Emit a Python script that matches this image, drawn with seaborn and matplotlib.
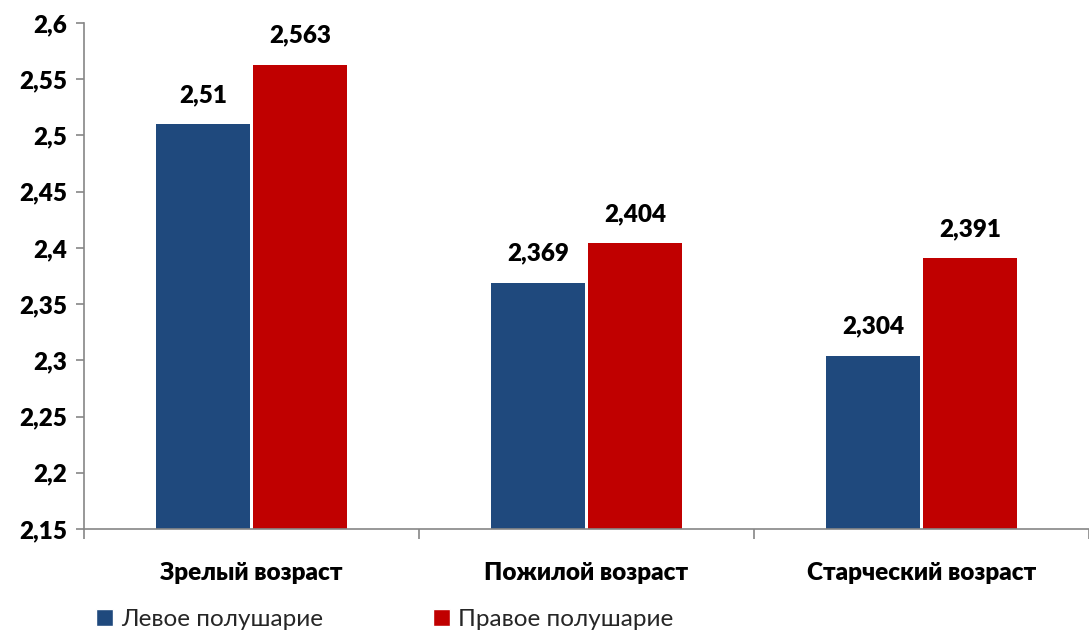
import matplotlib
matplotlib.use("Agg")
import matplotlib.pyplot as plt
import seaborn as sns
import pandas as pd
import numpy as np
from matplotlib.patches import Patch
from matplotlib.ticker import FuncFormatter, FixedLocator

categories = ["Зрелый возраст", "Пожилой возраст", "Старческий возраст"]
series_names = ["Левое полушарие", "Правое полушарие"]
left_values = [2.51, 2.369, 2.304]
right_values = [2.563, 2.404, 2.391]
left_labels = ["2,51", "2,369", "2,304"]
right_labels = ["2,563", "2,404", "2,391"]
colors = ["#1F497D", "#C00000"]

df = pd.DataFrame({
    "cat": categories * 2,
    "series": [series_names[0]] * 3 + [series_names[1]] * 3,
    "val": left_values + right_values,
})

sns.set_theme(style="white")
plt.rcParams["font.family"] = ["Lato", "DejaVu Sans"]

fig = plt.figure(figsize=(10.89, 6.34), dpi=100)
ax = fig.add_axes([84 / 1089, 1 - 529 / 634, 1 - 84 / 1089, (529 - 23) / 634])

sns.barplot(data=df, x="cat", y="val", hue="series", palette=colors,
            width=0.58, gap=0.04, ax=ax, legend=False, saturation=1, edgecolor="none")

ax.set_ylim(2.15, 2.6)
ax.set_xlim(-0.5, 2.5)
ax.set_yticks(np.arange(2.15, 2.6001, 0.05))
ax.yaxis.set_major_formatter(FuncFormatter(lambda v, p: f"{v:.2f}".rstrip("0").rstrip(".").replace(".", ",")))
ax.set_xlabel("")
ax.set_ylabel("")

for s in ["top", "right"]:
    ax.spines[s].set_visible(False)
for s in ["left", "bottom"]:
    ax.spines[s].set_color("#868686")
    ax.spines[s].set_linewidth(1.2)

ax.tick_params(axis="y", which="major", length=6, width=1.2, color="#868686", direction="out",
               labelsize=17.5, pad=6, left=True)
ax.tick_params(axis="x", which="major", length=0, labelsize=17.5, pad=24)
ax.xaxis.set_minor_locator(FixedLocator([-0.5, 0.5, 1.5, 2.5]))
ax.tick_params(axis="x", which="minor", length=7, width=1.2, color="#868686", direction="out", bottom=True)
for lbl in ax.get_yticklabels() + ax.get_xticklabels():
    lbl.set_fontweight("heavy")
    lbl.set_color("black")

containers = ax.containers
for cont, labels in zip(containers, [left_labels, right_labels]):
    ax.bar_label(cont, labels=labels, padding=13, fontsize=17.5, fontweight="heavy", color="black")

handles = [Patch(facecolor=colors[0], label=series_names[0]),
           Patch(facecolor=colors[1], label=series_names[1])]
fig.legend(handles=handles, loc="lower left", bbox_to_anchor=(74 / 1089, -0.028), ncol=2,
           frameon=False, fontsize=17.5, handlelength=0.7, handleheight=0.7,
           handletextpad=0.35, columnspacing=4.5)

fig.savefig("out.png", dpi=100)
